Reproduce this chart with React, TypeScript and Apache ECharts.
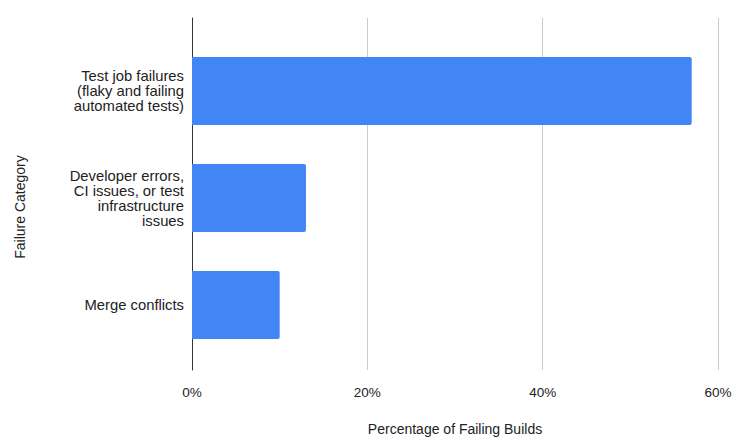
import React, { useEffect, useRef } from "react";
import * as echarts from "echarts";

const categories = [
  "Test job failures\n(flaky and failing\nautomated tests)",
  "Developer errors,\nCI issues, or test\ninfrastructure\nissues",
  "Merge conflicts",
];
const values = [57, 13, 10];
const xTicks = { min: 0, max: 60, interval: 20 };
const xTitle = "Percentage of Failing Builds";
const yTitle = "Failure Category";

const FONT = "'Liberation Sans', Arial, sans-serif";

export default function App() {
  const ref = useRef<HTMLDivElement>(null);
  useEffect(() => {
    if (!ref.current) return;
    const chart = echarts.init(ref.current, null, { renderer: "svg" });
    chart.setOption({
      animation: false,
      textStyle: { fontFamily: FONT },
      grid: [
        { left: 192, right: 34, top: 18, bottom: 76 },
        { left: 192, right: 34, top: 37.5, bottom: 87.5 },
      ],
      xAxis: [
        {
          gridIndex: 0,
          type: "value",
          min: xTicks.min,
          max: xTicks.max,
          interval: xTicks.interval,
          axisLine: { show: false },
          axisTick: { show: false },
          splitLine: { show: true, lineStyle: { color: "#cccccc", width: 1 } },
          axisLabel: {
            formatter: "{value}%",
            color: "#222222",
            fontSize: 13.5,
            fontFamily: FONT,
            margin: 15,
          },
          name: xTitle,
          nameLocation: "middle",
          nameGap: 52,
          nameTextStyle: { color: "#222222", fontSize: 14, fontFamily: FONT },
        },
        {
          gridIndex: 1,
          type: "value",
          min: xTicks.min,
          max: xTicks.max,
          show: false,
        },
      ],
      yAxis: [
        {
          gridIndex: 0,
          type: "value",
          min: 0,
          max: 1,
          axisLine: { show: true, lineStyle: { color: "#333333", width: 1 } },
          axisTick: { show: false },
          axisLabel: { show: false },
          splitLine: { show: false },
        },
        {
          gridIndex: 1,
          type: "category",
          data: categories,
          inverse: true,
          axisLine: { show: false },
          axisTick: { show: false },
          splitLine: { show: false },
          axisLabel: {
            color: "#222222",
            fontSize: 14.8,
            fontFamily: FONT,
            lineHeight: 15,
            align: "right",
            margin: 8,
          },
        },
      ],
      graphic: [
        {
          type: "text",
          x: 20,
          y: 207,
          rotation: Math.PI / 2,
          style: {
            text: yTitle,
            fill: "#222222",
            font: `14px ${FONT}`,
            align: "center",
            verticalAlign: "middle",
          },
        },
      ],
      series: [
        {
          type: "bar",
          xAxisIndex: 1,
          yAxisIndex: 1,
          data: values,
          barWidth: 68,
          itemStyle: { color: "#4285f4", borderRadius: [0, 2, 2, 0] },
        },
      ],
    });
    return () => chart.dispose();
  }, []);
  return <div ref={ref} style={{ width: 752, height: 446, margin: -8 }} />;
}
